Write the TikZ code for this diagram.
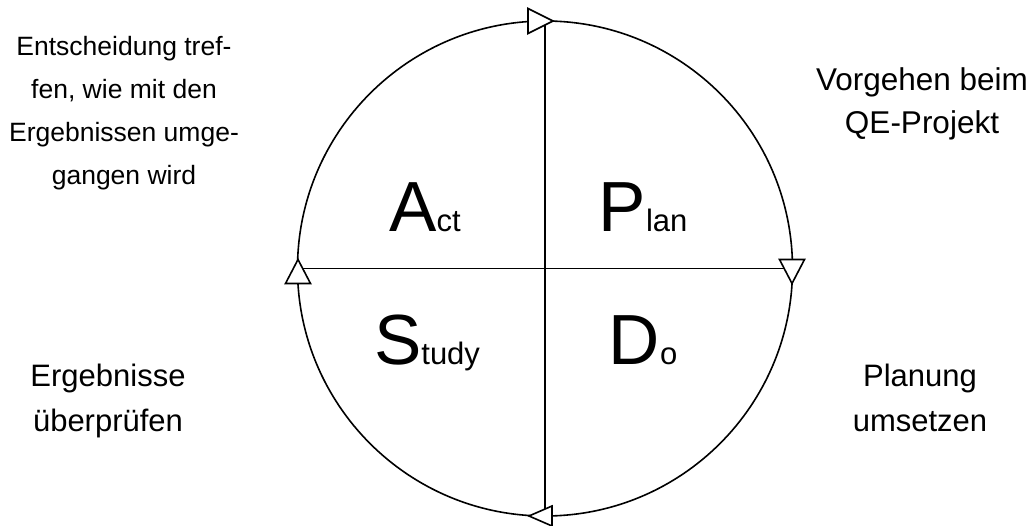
\documentclass[tikz,border=0pt]{standalone}
\usepackage{fontspec}
\setmainfont{Liberation Sans}
\usetikzlibrary{calc}
\tikzset{
  ring/.style={line width=1.6pt},
  arrowhead/.style={line width=1.6pt, fill=white, line join=miter},
  note/.style={align=center, inner sep=0pt},
  big/.style={anchor=base, inner sep=0pt},
}
\newcommand{\pdcaword}[2]{{\fontsize{71}{71}\selectfont #1}{\fontsize{31}{31}\selectfont #2}}
\begin{document}
\begin{tikzpicture}[x=1pt,y=-1pt]
\useasboundingbox (0,0) rectangle (1034,526);
\coordinate (C) at (545,268.5);
\coordinate (T) at (545,21);
\coordinate (R) at (792,268.5);
\coordinate (B) at (545,516);
\coordinate (L) at (298,268.5);
\draw[ring] (C) circle[radius=247.5];
\draw[ring] (T) -- (B);
\draw[ring] (L) -- (R);
% open arrowheads (clockwise cycle)
\draw[arrowhead] ($(T)+(-17,-12.5)$) -- ($(T)+(8,0)$) -- ($(T)+(-17,12.5)$) -- cycle;
\draw[arrowhead] ($(R)+(-12.5,-9)$) -- ($(R)+(0,15)$) -- ($(R)+(12.5,-9)$) -- cycle;
\draw[arrowhead] ($(B)+(7,-10)$) -- ($(B)+(-16,0)$) -- ($(B)+(7,10)$) -- cycle;
\draw[arrowhead] ($(L)+(-12.5,15)$) -- ($(L)+(0,-9)$) -- ($(L)+(12.5,15)$) -- cycle;
% quadrant labels
\node[big] (act) at (425,232) {\pdcaword{A}{ct}};
\node[big] (plan) at (643,232) {\pdcaword{P}{lan}};
\node[big] (study) at (427,365) {\pdcaword{S}{tudy}};
\node[big] (do) at (643,365) {\pdcaword{D}{o}};
% outer texts
\node[note, font=\fontsize{26.5}{43}\selectfont] (actnote) at (124,113)
  {Entscheidung tref-\\fen, wie mit den\\Ergebnissen umge-\\gangen wird};
\node[note, font=\fontsize{31.5}{43}\selectfont] (plannote) at (922,104)
  {Vorgehen beim\\QE-Projekt};
\node[note, font=\fontsize{31}{45}\selectfont] (studynote) at (108,401)
  {Ergebnisse\\überprüfen};
\node[note, font=\fontsize{31}{45}\selectfont] (donote) at (920,398)
  {Planung\\umsetzen};
\end{tikzpicture}
\end{document}
